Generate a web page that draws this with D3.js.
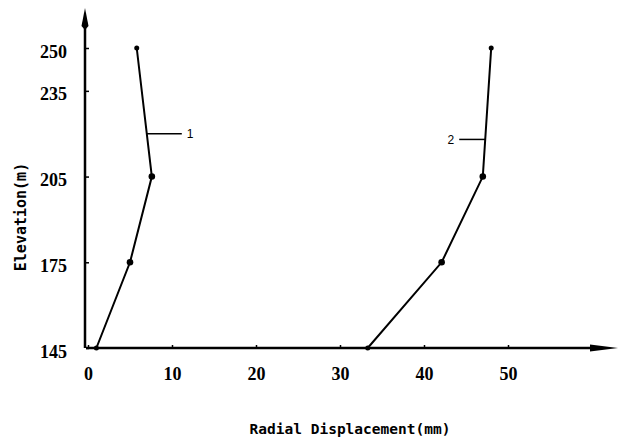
<!DOCTYPE html>
<html>
<head>
<meta charset="utf-8">
<script src="https://cdn.jsdelivr.net/npm/d3@7"></script>
<style>
  body { margin: 0; background: #fff; }
  svg { display: block; }
</style>
</head>
<body>
<div id="chart"></div>
<script>
// data
const elevations = [145, 175, 205, 250];
const series1 = [1.0, 5.0, 7.6, 5.8];
const series2 = [33.3, 42.1, 47.0, 48.0];
const seriesNames = ["1", "2"];
const labelElev = [220, 218];
const xTicks = [0, 10, 20, 30, 40, 50];
const yTicks = [145, 175, 205, 235, 250];

const width = 618, height = 440;

const svg = d3.select("#chart")
  .append("svg")
  .attr("width", width)
  .attr("height", height);

// scales
const x = d3.scaleLinear().domain([0, 50]).range([88, 508]);
const y = d3.scaleLinear().domain([145, 250]).range([348, 48]);

const ink = "#000";

// X axis
const xAxis = svg.append("g")
  .attr("transform", `translate(0,${y(145)})`)
  .call(d3.axisBottom(x).tickValues(xTicks).tickSize(-3).tickPadding(19).tickFormat(d3.format("d")));
xAxis.select(".domain").remove();
xAxis.selectAll("line").attr("stroke", ink).attr("stroke-width", 1.5);
xAxis.selectAll("text")
  .attr("fill", ink)
  .style("font-family", "'Liberation Serif', serif")
  .style("font-weight", "bold")
  .style("font-size", "18px");

// Y axis
const yAxis = svg.append("g")
  .attr("transform", `translate(86,0)`)
  .call(d3.axisLeft(y).tickValues(yTicks).tickSize(-3).tickPadding(19).tickFormat(d3.format("d")));
yAxis.select(".domain").remove();
yAxis.selectAll("line").attr("stroke", ink).attr("stroke-width", 1.5);
yAxis.selectAll("text")
  .attr("fill", ink)
  .attr("dy", "0.5em")
  .style("font-family", "'Liberation Serif', serif")
  .style("font-weight", "bold")
  .style("font-size", "18px");

// axis lines with arrow heads
svg.append("line")
  .attr("x1", 86).attr("x2", 592)
  .attr("y1", y(145)).attr("y2", y(145))
  .attr("stroke", ink).attr("stroke-width", 2.5);
svg.append("path")
  .attr("d", `M590,${y(145) - 3.5} L618,${y(145)} L590,${y(145) + 3.5} Z`)
  .attr("fill", ink);

svg.append("line")
  .attr("x1", 85).attr("x2", 85)
  .attr("y1", y(145)).attr("y2", 28)
  .attr("stroke", ink).attr("stroke-width", 2.5);
svg.append("path")
  .attr("d", "M85,8 L88.5,26 L85,30 L81.5,26 Z")
  .attr("fill", ink);

// series lines + points
const line = d3.line()
  .x(d => x(d.v))
  .y(d => y(d.e));

[series1, series2].forEach((vals, i) => {
  const pts = vals.map((v, j) => ({ v: v, e: elevations[j] }));

  svg.append("path")
    .datum(pts)
    .attr("d", line)
    .attr("fill", "none")
    .attr("stroke", ink)
    .attr("stroke-width", 2);

  svg.selectAll(".pt" + i)
    .data(pts)
    .enter()
    .append("circle")
    .attr("class", "pt" + i)
    .attr("cx", d => x(d.v))
    .attr("cy", d => y(d.e))
    .attr("r", (d, j) => (j === 0 || j === 3) ? 2.5 : 3.3)
    .attr("fill", ink);

  // leader line + number label
  const e = labelElev[i];
  const k = d3.bisectRight(elevations, e) - 1;
  const t = (e - elevations[k]) / (elevations[k + 1] - elevations[k]);
  const lx = x(vals[k] + t * (vals[k + 1] - vals[k]));
  const dir = i === 0 ? 1 : -1;
  const len = i === 0 ? 35 : 26;

  svg.append("line")
    .attr("x1", lx).attr("x2", lx + dir * len)
    .attr("y1", y(e)).attr("y2", y(e))
    .attr("stroke", ink).attr("stroke-width", 1.5);

  svg.append("text")
    .attr("x", lx + dir * (len + 5))
    .attr("y", y(e))
    .attr("dy", "0.35em")
    .attr("text-anchor", i === 0 ? "start" : "end")
    .attr("fill", ink)
    .style("font-family", "'Liberation Sans', sans-serif")
    .style("font-size", "12px")
    .text(seriesNames[i]);
});

// axis titles
svg.append("text")
  .attr("transform", "translate(26,217) rotate(-90)")
  .attr("text-anchor", "middle")
  .attr("fill", ink)
  .style("font-family", "'DejaVu Sans Mono', monospace")
  .style("font-weight", "bold")
  .style("font-size", "15px")
  .text("Elevation(m)");

svg.append("text")
  .attr("x", 350)
  .attr("y", 434)
  .attr("text-anchor", "middle")
  .attr("fill", ink)
  .style("font-family", "'DejaVu Sans Mono', monospace")
  .style("font-weight", "bold")
  .style("font-size", "14.5px")
  .text("Radial Displacement(mm)");
</script>
</body>
</html>
